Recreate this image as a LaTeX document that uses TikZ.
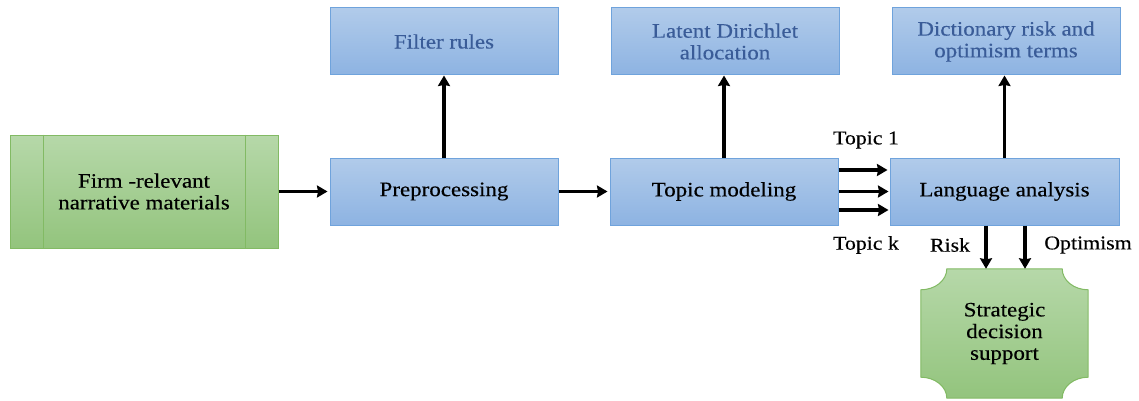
\documentclass[tikz,border=0pt]{standalone}
\usepackage{fontspec}
\setmainfont[FakeStretch=1.12,FakeBold=0.25]{Liberation Serif}
\usetikzlibrary{arrows.meta,calc,backgrounds}

\definecolor{boxtop}{HTML}{B1CBEA}
\definecolor{boxbot}{HTML}{8DB3E2}
\definecolor{boxedge}{HTML}{6FA3DC}
\definecolor{toptext}{HTML}{3A5C98}
\definecolor{greentop}{HTML}{B6D8A9}
\definecolor{greenbot}{HTML}{93C47D}
\definecolor{greenedge}{HTML}{82BA64}

\newcommand{\boxfont}{\fontsize{20.5}{21.7}\selectfont}
\newcommand{\lblfont}{\fontsize{19.5}{21}\selectfont}

\begin{document}
\begin{tikzpicture}[x=1pt,y=-1pt,
  bluebox/.style={draw=boxedge, line width=1pt, top color=boxtop, bottom color=boxbot,
    minimum width=228pt, minimum height=67pt, inner sep=0pt, align=center, font=\boxfont},
  topbox/.style={bluebox, text=toptext},
  greenfill/.style={draw=greenedge, line width=1pt, top color=greentop, bottom color=greenbot},
  greenbox/.style={greenfill, minimum width=268pt, minimum height=113pt, inner sep=0pt,
    align=center, font=\boxfont},
  flow/.style={line width=3.2pt, -{Stealth[length=10.5pt,width=12pt,inset=1pt]}},
  lbl/.style={font=\lblfont, inner sep=0pt}]
\useasboundingbox (0,0) rectangle (1139,401);

% source materials (predefined-process box)
\node[greenbox] (src) at (144,191.5) {Firm -relevant\\narrative materials};
\draw[greenedge, line width=1pt] ($(src.north west)+(34,0)$) -- ($(src.south west)+(34,0)$);
\draw[greenedge, line width=1pt] ($(src.north east)+(-33,0)$) -- ($(src.south east)+(-33,0)$);

% main pipeline
\node[bluebox] (pre) at (444,191.5) {Preprocessing};
\node[bluebox] (tm) at (724,191.5) {Topic modeling};
\node[bluebox, minimum width=229pt] (la) at (1004.5,191.5) {Language analysis};

% supporting methods
\node[topbox] (fr) at (444,41.5) {Filter rules};
\node[topbox] (lda) at (725,41.5) {Latent Dirichlet\\allocation};
\node[topbox] (dict) at (1006,41.5) {Dictionary risk and\\optimism terms};

% decision support (concave-cornered box)
\node[minimum width=167pt, minimum height=129pt, inner sep=0pt, align=center, font=\boxfont]
  (sds) at (1004.5,333.5) {Strategic\\decision\\support};
\begin{scope}[on background layer]
\path[greenfill]
  ($(sds.north west)+(26,0)$) -- ($(sds.north east)+(-26,0)$)
  .. controls ($(sds.north east)+(-26,11.6)$) and ($(sds.north east)+(-14.3,21)$) .. ($(sds.north east)+(0,21)$)
  -- ($(sds.south east)+(0,-21)$)
  .. controls ($(sds.south east)+(-14.3,-21)$) and ($(sds.south east)+(-26,-11.6)$) .. ($(sds.south east)+(-26,0)$)
  -- ($(sds.south west)+(26,0)$)
  .. controls ($(sds.south west)+(26,-11.6)$) and ($(sds.south west)+(14.3,-21)$) .. ($(sds.south west)+(0,-21)$)
  -- ($(sds.north west)+(0,21)$)
  .. controls ($(sds.north west)+(14.3,21)$) and ($(sds.north west)+(26,11.6)$) .. ($(sds.north west)+(26,0)$)
  -- cycle;
\end{scope}

% connectors
\draw[flow] (src.east) -- ($(pre.west)+(-2,0)$);
\draw[flow] (pre.east) -- ($(tm.west)+(-2,0)$);
\draw[flow] (pre.north) -- (pre.north |- fr.south);
\draw[flow] (tm.north) -- (tm.north |- lda.south);
\draw[flow] (la.north) -- (la.north |- dict.south);

\draw[flow] ($(tm.east)+(0,-21.5)$) -- ($(la.west)+(-2,-21.5)$);
\draw[flow] (tm.east) -- ($(la.west)+(-1,0)$);
\draw[flow] ($(tm.east)+(0,18.5)$) -- ($(la.west)+(-1,18.5)$);

\coordinate (riskout) at ($(la.south)+(-18.5,0)$);
\coordinate (optout) at ($(la.south)+(20.5,0)$);
\draw[flow] (riskout) -- (riskout |- sds.north);
\draw[flow] (optout) -- (optout |- sds.north);

% labels
\node[lbl] (t1) at (866,140) {Topic 1};
\node[lbl] (tk) at (866,245) {Topic k};
\node[lbl] (risk) at (950,245) {Risk};
\node[lbl] (opt) at (1088,245) {Optimism};
\end{tikzpicture}
\end{document}
